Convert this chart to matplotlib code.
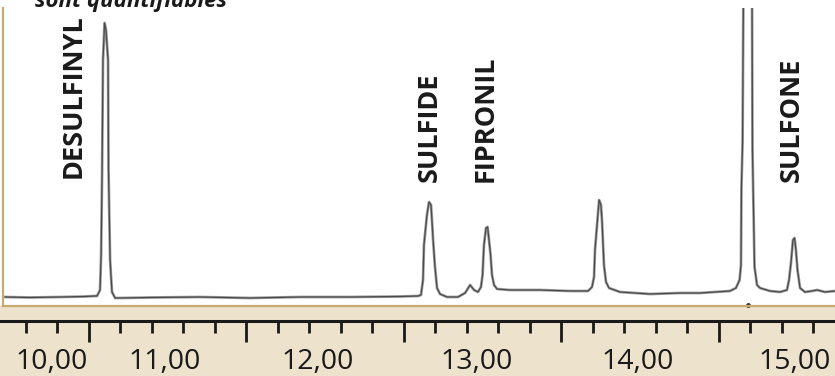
import numpy as np
import matplotlib
matplotlib.use("Agg")
import matplotlib.pyplot as plt

# chromatogramme : temps (min) / signal (unites arbitraires)
temps = [9.984, 10.143, 10.333, 10.492, 10.556, 10.568, 10.587, 10.594, 10.600, 10.606,
         10.616, 10.625, 10.638, 10.641, 10.651, 10.663, 10.683, 10.714, 10.905, 11.222,
         11.540, 11.857, 12.175, 12.492, 12.606, 12.625, 12.638, 12.644, 12.663, 12.676,
         12.689, 12.702, 12.714, 12.727, 12.746, 12.790, 12.860, 12.905, 12.937, 12.962,
         12.987, 13.006, 13.016, 13.025, 13.038, 13.048, 13.057, 13.067, 13.076, 13.089,
         13.108, 13.190, 13.381, 13.571, 13.686, 13.711, 13.724, 13.730, 13.743, 13.756,
         13.768, 13.775, 13.787, 13.800, 13.819, 13.889, 14.079, 14.270, 14.397, 14.492,
         14.587, 14.625, 14.648, 14.657, 14.660, 14.667, 14.670, 14.673, 14.727, 14.730,
         14.733, 14.743, 14.759, 14.778, 14.841, 14.905, 14.949, 14.962, 14.975, 14.987,
         14.997, 15.006, 15.016, 15.032, 15.063, 15.108, 15.140, 15.190, 15.254]
signal = [9, 8.5, 9, 9.5, 10, 10, 16, 51, 131, 246,
          283, 276, 246, 136, 46, 14, 8, 8, 8.5, 9,
          8, 9, 9, 9.5, 10, 11, 26, 61, 91, 104,
          101, 66, 39, 18, 12, 9, 9, 13, 21, 16,
          14, 19, 31, 61, 78, 79, 66, 51, 31, 21,
          17, 16, 16, 15, 15, 19, 29, 56, 81, 106,
          101, 84, 41, 24, 18, 14, 12, 13, 13, 14,
          15, 18, 26, 41, 119, 163, 246, 326, 326, 156,
          129, 39, 21, 18, 15, 14, 16, 26, 44, 66,
          68, 56, 36, 18, 14, 15, 16, 14, 15]

composes = ["DESULFINYL", "SULFIDE", "FIPRONIL", "SULFONE"]
composes_x = [10.422, 12.683, 13.038, 14.981]
composes_y = [128, 124, 124, 124]

etiquettes = ["10,00", "11,00", "12,00", "13,00", "14,00", "15,00"]
etiquettes_x = [10.28, 11.0, 11.97, 12.98, 14.0, 15.0]

graduations_maj = [10.515, 11.515, 12.515, 13.515, 14.515]
graduations_min = np.arange(10.115, 15.26, 0.2)

beige = "#ede2cb"
or_ = "#c9aa6e"
encre = "#1a1a1a"

fig = plt.figure(figsize=(8.35, 3.76), dpi=100)
fig.patch.set_facecolor("white")

# bandeau du bas avec l'echelle des temps
bande = fig.add_axes([0, 0, 1, 70 / 376])
bande.set_facecolor(beige)
bande.set_xlim(9.952, 15.254)
bande.set_ylim(0, 1)
for c in ["left", "right", "bottom"]:
    bande.spines[c].set_visible(False)
bande.spines["top"].set_position(("axes", 0.786))
bande.spines["top"].set_color(encre)
bande.spines["top"].set_linewidth(2.2)
bande.xaxis.set_ticks_position("top")
bande.set_xticks(graduations_maj)
bande.set_xticks(graduations_min, minor=True)
bande.tick_params(axis="x", which="both", direction="in", color=encre, width=2.0,
                  labeltop=False, labelbottom=False)
bande.tick_params(axis="x", which="major", length=15)
bande.tick_params(axis="x", which="minor", length=8.6)
bande.set_yticks([])
for xx, lab in zip(etiquettes_x, etiquettes):
    bande.text(xx, 0.1, lab, ha="center", va="baseline", fontsize=20.5,
               family="Open Sans", color=encre)

# zone du chromatogramme
ax = fig.add_axes([3 / 835, 70 / 376, 832 / 835, 298 / 376])
ax.set_facecolor("white")
ax.plot(temps, signal, color="#a0a0a0", lw=2.0, solid_joinstyle="round")
ax.plot(temps, signal, color="#4a4a4a", lw=0.9, solid_joinstyle="round")
ax.plot([14.702], [1], "o", color="#333333", ms=2.5, clip_on=False)
ax.set_xlim(9.971, 15.254)
ax.set_ylim(0, 298)
ax.spines["top"].set_visible(False)
ax.spines["right"].set_visible(False)
for c in ["left", "bottom"]:
    ax.spines[c].set_color(or_)
    ax.spines[c].set_linewidth(1.6)
ax.set_xticks([])
ax.set_yticks([])

for nom, xx, yy in zip(composes, composes_x, composes_y):
    ax.text(xx, yy, nom, rotation=90, ha="center", va="bottom", fontsize=19.5,
            family="Open Sans", fontweight="bold", color=encre)

fig.text(35 / 835, 1 - 7 / 376, "sont quantifiables", ha="left", va="baseline",
         fontsize=16, family="Open Sans", fontweight="bold", style="italic", color=encre)

fig.savefig("out.png", dpi=100, facecolor=fig.get_facecolor())
